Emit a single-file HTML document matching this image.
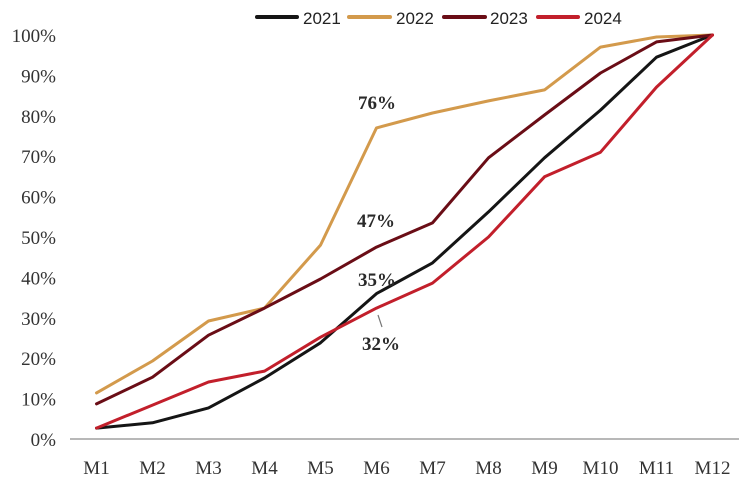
<!DOCTYPE html>
<html><head><meta charset="utf-8"><style>
html,body{margin:0;padding:0;background:#fff;}
svg{display:block;}
.ax{font-family:"Liberation Serif",serif;font-size:19px;fill:#333;}
.lg{font-family:"Liberation Sans",sans-serif;font-size:17px;fill:#222;}
.an{font-family:"Liberation Serif",serif;font-size:19px;font-weight:bold;fill:#2a2a2a;}
</style></head><body>
<svg width="752" height="492" viewBox="0 0 752 492" xmlns="http://www.w3.org/2000/svg">
<rect width="752" height="492" fill="#fff"/>
<!-- y labels -->
<g class="ax" text-anchor="end">
<text x="56" y="42">100%</text>
<text x="56" y="82.4">90%</text>
<text x="56" y="122.8">80%</text>
<text x="56" y="163.2">70%</text>
<text x="56" y="203.6">60%</text>
<text x="56" y="244">50%</text>
<text x="56" y="284.4">40%</text>
<text x="56" y="324.8">30%</text>
<text x="56" y="365.2">20%</text>
<text x="56" y="405.6">10%</text>
<text x="56" y="446">0%</text>
</g>
<line x1="70" y1="439" x2="739" y2="439" stroke="#a0a0a0" stroke-width="1.5"/>
<g class="ax" text-anchor="middle">
<text x="96.5" y="474">M1</text>
<text x="152.5" y="474">M2</text>
<text x="208.5" y="474">M3</text>
<text x="264.5" y="474">M4</text>
<text x="320.5" y="474">M5</text>
<text x="376.5" y="474">M6</text>
<text x="432.5" y="474">M7</text>
<text x="488.5" y="474">M8</text>
<text x="544.5" y="474">M9</text>
<text x="600.5" y="474">M10</text>
<text x="656.5" y="474">M11</text>
<text x="712.5" y="474">M12</text>
</g>
<g fill="none" stroke-width="3" stroke-linejoin="round" stroke-linecap="round">
<polyline stroke="#151515" points="96.5,428.1 152.5,422.8 208.5,407.9 264.5,378 320.5,342.8 376.5,293.6 432.5,262.9 488.5,211.9 544.5,157.8 600.5,110.1 656.5,57.2 712.5,35"/>
<polyline stroke="#d39a4c" points="96.5,392.9 152.5,361 208.5,321 264.5,308.1 320.5,245.1 376.5,127.9 432.5,113 488.5,100.9 544.5,89.9 600.5,47.1 656.5,37 712.5,35"/>
<polyline stroke="#6a0d16" points="96.5,403.9 152.5,377.2 208.5,335.2 264.5,308.1 320.5,279 376.5,247.1 432.5,222.9 488.5,157.8 544.5,115 600.5,73 656.5,41.9 712.5,35"/>
<polyline stroke="#c21f2b" points="96.5,428.1 152.5,405.1 208.5,382 264.5,371.1 320.5,337.2 376.5,308.1 432.5,283.1 488.5,237 544.5,176.8 600.5,152.2 656.5,87.1 712.5,35"/>
</g>
<!-- annotations -->
<g class="an">
<text x="358" y="109">76%</text>
<text x="357" y="227">47%</text>
<text x="358" y="286">35%</text>
<text x="362" y="350">32%</text>
</g>
<line x1="378" y1="315" x2="382" y2="327" stroke="#777" stroke-width="1.2"/>
<!-- legend -->
<g stroke-width="4" stroke-linecap="round">
<line x1="257" y1="17" x2="297" y2="17" stroke="#151515"/>
<line x1="349" y1="17" x2="390" y2="17" stroke="#d39a4c"/>
<line x1="444" y1="17" x2="485" y2="17" stroke="#6a0d16"/>
<line x1="538" y1="17" x2="578" y2="17" stroke="#c21f2b"/>
</g>
<g class="lg">
<text x="303" y="24">2021</text>
<text x="396" y="24">2022</text>
<text x="490" y="24">2023</text>
<text x="584" y="24">2024</text>
</g>
</svg>
</body></html>
